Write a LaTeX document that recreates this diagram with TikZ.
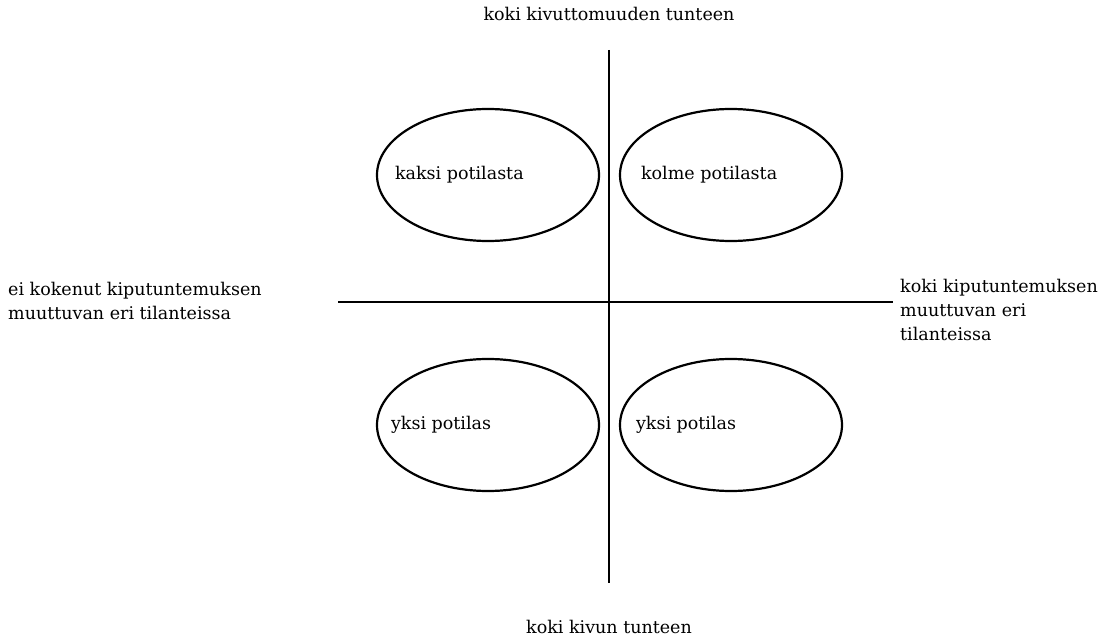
\documentclass[tikz,border=0pt]{standalone}
\usepackage{fontspec}
\setmainfont{DejaVu Serif}
\usetikzlibrary{positioning,shapes.geometric}

\begin{document}
\begin{tikzpicture}[x=1pt,y=-1pt]
    \tikzset{oval/.style={ellipse,draw,line width=2.2pt,minimum width=222pt,minimum height=132pt,inner sep=0pt},
      txt/.style={font=\fontsize{17.5}{24}\selectfont,inner sep=0pt,align=left},
      axis/.style={line width=2.6pt}}
    \useasboundingbox (0,0) rectangle (1120,639);
    % axes
    \coordinate (up) at (609,50);
    \coordinate (down) at (609,583);
    \coordinate (left) at (338,302);
    \coordinate (right) at (893,302);
    \draw[axis] (up) -- (down);
    \draw[axis] (left) -- (right);
    % axis texts
    \node[txt] (uptext) at (609,14) {koki kivuttomuuden tunteen};
    \node[txt] (downtext) at (609,627) {koki kivun tunteen};
    \node[txt,anchor=west] (lefttext) at (8,301) {ei kokenut kiputuntemuksen\\muuttuvan eri tilanteissa};
    \node[txt,anchor=north west] (righttext) at (900,279) {koki kiputuntemuksen\\muuttuvan eri\\tilanteissa};
    % quadrants
    \node[oval] (tl) at (488,175) {};
    \node[oval] (tr) at (731,175) {};
    \node[oval] (bl) at (488,425) {};
    \node[oval] (br) at (731,425) {};
    \node[txt,anchor=west] (tltext) at ([xshift=19pt]tl.west) {kaksi potilasta};
    \node[txt,anchor=west] (trtext) at ([xshift=22pt]tr.west) {kolme potilasta};
    \node[txt,anchor=west] (bltext) at ([xshift=15pt]bl.west) {yksi potilas};
    \node[txt,anchor=west] (brtext) at ([xshift=17pt]br.west) {yksi potilas};
  \end{tikzpicture}
\end{document}
